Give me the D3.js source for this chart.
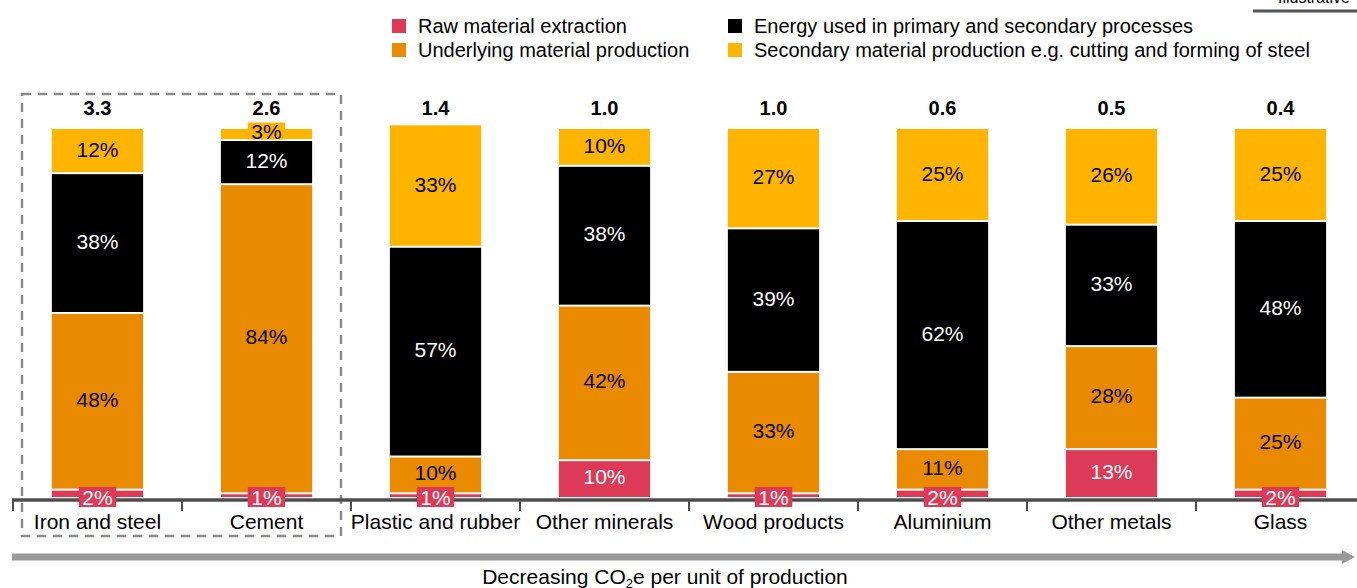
<!DOCTYPE html>
<html>
<head>
<meta charset="utf-8">
<script src="https://cdn.jsdelivr.net/npm/d3@7/dist/d3.min.js"></script>
<style>
  html, body { margin: 0; padding: 0; background: #fff; }
  svg { display: block; font-family: "Liberation Sans", Arial, Helvetica, sans-serif; }
</style>
</head>
<body>
<svg id="chart" width="1357" height="588"></svg>
<script>
// Categories, ordered by decreasing CO2e per unit of production
const categories = ["Iron and steel", "Cement", "Plastic and rubber", "Other minerals",
                    "Wood products", "Aluminium", "Other metals", "Glass"];
const totals = ["3.3", "2.6", "1.4", "1.0", "1.0", "0.6", "0.5", "0.4"];

// Share of emissions (%) per stage, stacked bottom to top
const rawExtraction   = [2, 1, 1, 10, 1, 2, 13, 2];
const underlyingProd  = [48, 84, 10, 42, 33, 11, 28, 25];
const energyUsed      = [38, 12, 57, 38, 39, 62, 33, 48];
const secondaryProd   = [12, 3, 33, 10, 27, 25, 26, 25];

const seriesNames = ["Raw material extraction", "Underlying material production",
                     "Energy used in primary and secondary processes",
                     "Secondary material production e.g. cutting and forming of steel"];

const colors = { raw: "#dc3a56", underlying: "#ea8a00", energy: "#000000", secondary: "#ffb400" };
const textColors = { raw: "#ffffff", underlying: "#000000", energy: "#ffffff", secondary: "#000000" };

const svg = d3.select("#chart");

const x = d3.scaleBand().domain(categories).range([13, 1365]);
const barW = x.bandwidth() * 0.54;
const y = d3.scaleLinear().domain([0, 100]).range([497, 129]);

const keys = ["raw", "underlying", "energy", "secondary"];
const rows = categories.map((c, i) => ({
  category: c,
  raw: rawExtraction[i],
  underlying: underlyingProd[i],
  energy: energyUsed[i],
  secondary: secondaryProd[i]
}));
const stacked = d3.stack().keys(keys)(rows);

// Dashed frame around the two highest emitters
svg.append("rect")
  .attr("x", 22).attr("y", 94)
  .attr("width", x("Cement") + x.bandwidth() - 10 - 22)
  .attr("height", 536 - 94)
  .attr("fill", "none")
  .attr("stroke", "#8a8a8a")
  .attr("stroke-width", 2.5)
  .attr("stroke-dasharray", "9,7");

// Stacked segments
const gap = 2;
stacked.forEach(layer => {
  const key = layer.key;
  svg.append("g").selectAll("rect")
    .data(layer)
    .join("rect")
    .attr("x", d => x(d.data.category) + (x.bandwidth() - barW) / 2)
    .attr("y", d => y(d[1]) + (key === "secondary" ? 0 : gap / 2))
    .attr("width", barW)
    .attr("height", d => {
      const top = y(d[1]) + (key === "secondary" ? 0 : gap / 2);
      const bottom = y(d[0]) - (key === "raw" ? 0 : gap / 2);
      return Math.max(0, bottom - top);
    })
    .attr("fill", colors[key]);
});

// Axis baseline with category ticks
const axisY = 500;
const axis = d3.axisBottom(x).tickSize(0).tickFormat("");
const axisG = svg.append("g").attr("transform", `translate(0,${axisY})`).call(axis);
axisG.select(".domain").remove();
svg.append("line")
  .attr("x1", 12).attr("x2", 1357)
  .attr("y1", axisY).attr("y2", axisY)
  .attr("stroke", "#4d4d4d").attr("stroke-width", 3.5);
const boundaries = categories.map(c => x(c)).concat([x.range()[1]]);
svg.append("g").selectAll("line")
  .data(boundaries)
  .join("line")
  .attr("x1", d => d).attr("x2", d => d)
  .attr("y1", axisY).attr("y2", axisY + 11)
  .attr("stroke", "#4d4d4d").attr("stroke-width", 2);

// Category labels
svg.append("g").selectAll("text")
  .data(categories)
  .join("text")
  .attr("x", d => x(d) + x.bandwidth() / 2)
  .attr("y", 529)
  .attr("text-anchor", "middle")
  .attr("font-size", 21)
  .attr("fill", "#000")
  .text(d => d);

// Segment value labels
stacked.forEach(layer => {
  const key = layer.key;
  layer.forEach(d => {
    const v = d[1] - d[0];
    const cx = x(d.data.category) + x.bandwidth() / 2;
    const small = v < 5;
    let cy = (y(d[0]) + y(d[1])) / 2 - 2;
    if (small) cy = key === "raw" ? y(0) : y(d[1]) + 2;
    const g = svg.append("g");
    const t = g.append("text")
      .attr("x", cx).attr("y", cy)
      .attr("dy", "0.36em")
      .attr("text-anchor", "middle")
      .attr("font-size", 21)
      .attr("fill", textColors[key])
      .text(v + "%");
    if (small) {
      const w = t.node().getComputedTextLength() + 7;
      const h = key === "raw" ? 20 : 17;
      g.insert("rect", "text")
        .attr("x", cx - w / 2).attr("y", cy - h / 2)
        .attr("width", w).attr("height", h)
        .attr("fill", colors[key]);
    }
  });
});

// Totals above the bars
svg.append("g").selectAll("text")
  .data(categories)
  .join("text")
  .attr("x", d => x(d) + x.bandwidth() / 2)
  .attr("y", 115)
  .attr("text-anchor", "middle")
  .attr("font-size", 20)
  .attr("font-weight", "bold")
  .attr("fill", "#000")
  .text((d, i) => totals[i]);

// Legend
const legendItems = [
  { key: "raw", name: seriesNames[0], lx: 392, ly: 19 },
  { key: "underlying", name: seriesNames[1], lx: 392, ly: 43 },
  { key: "energy", name: seriesNames[2], lx: 728, ly: 19 },
  { key: "secondary", name: seriesNames[3], lx: 728, ly: 43 }
];
const lg = svg.append("g").selectAll("g").data(legendItems).join("g")
  .attr("transform", d => `translate(${d.lx},${d.ly})`);
lg.append("rect").attr("width", 14).attr("height", 14).attr("fill", d => colors[d.key]);
lg.append("text")
  .attr("x", 26).attr("y", 7).attr("dy", "0.36em")
  .attr("font-size", 20)
  .attr("fill", "#000")
  .text(d => d.name);

// "Illustrative" tag in the top-right corner
svg.append("text")
  .attr("x", 1350).attr("y", 3)
  .attr("text-anchor", "end")
  .attr("font-size", 16)
  .attr("fill", "#000")
  .text("Illustrative");
svg.append("line")
  .attr("x1", 1253).attr("x2", 1357)
  .attr("y1", 11).attr("y2", 11)
  .attr("stroke", "#555").attr("stroke-width", 3);

// Direction arrow
svg.append("line")
  .attr("x1", 12).attr("x2", 1344)
  .attr("y1", 557).attr("y2", 557)
  .attr("stroke", "#999").attr("stroke-width", 7);
svg.append("path")
  .attr("d", "M1342,550 L1355,557 L1342,564 Z")
  .attr("fill", "#999");

const cap = svg.append("text")
  .attr("x", 665).attr("y", 584)
  .attr("text-anchor", "middle")
  .attr("font-size", 21)
  .attr("fill", "#000");
cap.append("tspan").text("Decreasing CO");
cap.append("tspan").attr("font-size", 13).attr("dy", 4).text("2");
cap.append("tspan").attr("dy", -4).text("e per unit of production");
</script>
</body>
</html>
